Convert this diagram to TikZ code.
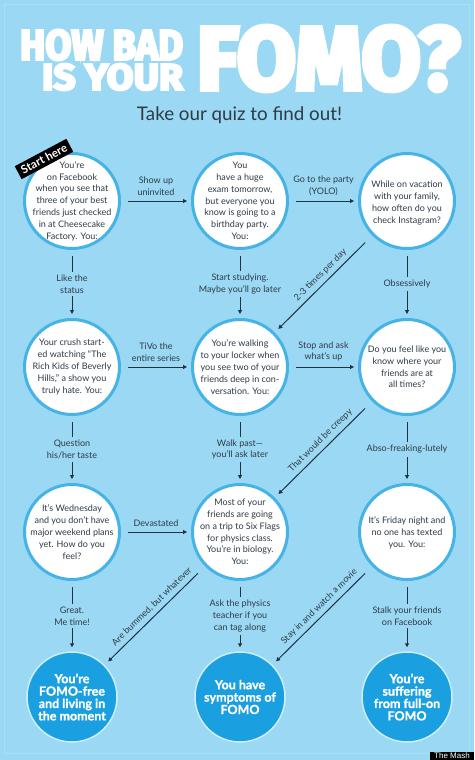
\documentclass[tikz,border=0pt]{standalone}
\usepackage{fontspec}
\setmainfont{Lato}
\newfontfamily\titlefont{Fira Sans}[BoldFeatures={FakeBold=6}]
\newfontfamily\heavyfont{Lato}[BoldFeatures={FakeBold=1.2}]
\newfontfamily\mashfont{Liberation Sans}
\usetikzlibrary{arrows.meta}
\definecolor{bg}{HTML}{9BD8F4}
\definecolor{framec}{HTML}{ABDFF6}
\definecolor{ring}{HTML}{45B3E5}
\definecolor{finalfill}{HTML}{1A9FE0}
\definecolor{finalring}{HTML}{CDEDFB}
\definecolor{txt}{HTML}{2E3B46}
\definecolor{arrowc}{HTML}{1E3242}
\tikzset{
  qcirc/.style={circle, draw=ring, line width=3pt, fill=white, minimum size=95pt, inner sep=0pt},
  qtext/.style={align=center, text=txt, font=\fontsize{9}{11.8}\selectfont, inner sep=0pt},
  fcirc/.style={circle, draw=finalring, line width=1.5pt, fill=finalfill, minimum size=90pt, inner sep=0pt},
  ftext/.style={align=center, text=white, font=\heavyfont\bfseries\fontsize{12.5}{12.4}\selectfont, inner sep=0pt},
  conn/.style={draw=arrowc, line width=1pt, -{Triangle[length=4pt,width=4pt]}, shorten <=6pt, shorten >=4pt},
  vlab/.style={align=center, text=txt, fill=bg, font=\fontsize{9}{11.8}\selectfont, inner sep=3pt},
  hlab/.style={align=center, text=txt, font=\fontsize{9}{11.8}\selectfont, inner sep=2pt, above=3pt},
  dlab/.style={text=txt, font=\fontsize{9}{9}\selectfont, inner sep=1pt, sloped, above=3pt, pos=0.47},
  diag/.style={conn, shorten <=10pt, shorten >=5pt}
}
\begin{document}
\begin{tikzpicture}[x=1pt,y=-1pt]
\useasboundingbox (0,0) rectangle (474,760);
\fill[bg] (0,0) rectangle (474,760);
\draw[framec, line width=0.8pt] (4.5,4.5) rectangle (469.5,753.5);

% title
\node[inner sep=0pt, text=white] (tHow) at (101.5,45) {\resizebox{163pt}{30pt}{\titlefont\bfseries HOW BAD}};
\node[inner sep=0pt, text=white] (tIs) at (112.5,77) {\resizebox{141pt}{26pt}{\titlefont\bfseries IS YOUR}};
\node[inner sep=0pt, text=white] (tFomo) at (328.5,58.5) {\resizebox{263pt}{63pt}{\titlefont\bfseries FOMO?}};
\node[inner sep=0pt, text=txt, anchor=base] (sub) at (239.5,120) {\resizebox{205pt}{!}{\fontsize{20}{20}\selectfont Take our quiz to find out!}};

% question circles
\node[qcirc] (c1) at (72,201) {};
\node[qcirc] (c2) at (240,201) {};
\node[qcirc] (c3) at (407,201) {};
\node[qcirc] (c4) at (72,367) {};
\node[qcirc] (c5) at (240,367) {};
\node[qcirc] (c6) at (407,367) {};
\node[qcirc] (c7) at (72,532) {};
\node[qcirc] (c8) at (240,532) {};
\node[qcirc] (c9) at (407,532) {};
\node[fcirc] (f1) at (72,697) {};
\node[fcirc] (f2) at (240,697) {};
\node[fcirc] (f3) at (407,697) {};

\node[qtext] (t1) at (c1) {You’re\\on Facebook\\when you see that\\three of your best\\friends just checked\\in at Cheesecake\\Factory. You:};
\node[qtext] (t2) at (c2) {You\\have a huge\\exam tomorrow,\\but everyone you\\know is going to a\\birthday party.\\You:};
\node[qtext] (t3) at ([yshift=-2pt]c3) {While on vacation\\with your family,\\how often do you\\check Instagram?};
\node[qtext] (t4) at (c4) {Your crush start-\\ed watching “The\\Rich Kids of Beverly\\Hills,” a show you\\truly hate. You:};
\node[qtext] (t5) at (c5) {You’re walking\\to your locker when\\you see two of your\\friends deep in con-\\versation. You:};
\node[qtext] (t6) at (c6) {Do you feel like you\\know where your\\friends are at\\all times?};
\node[qtext] (t7) at (c7) {It’s Wednesday\\and you don’t have\\major weekend plans\\yet. How do you\\feel?};
\node[qtext] (t8) at (c8) {Most of your\\friends are going\\on a trip to Six Flags\\for physics class.\\You’re in biology.\\You:};
\node[qtext] (t9) at ([yshift=-1pt]c9) {It’s Friday night and\\no one has texted\\you. You:};
\node[ftext] (tf1) at (f1) {You’re\\FOMO-free\\and living in\\the moment};
\node[ftext] (tf2) at (f2) {You have\\symptoms of\\FOMO};
\node[ftext] (tf3) at (f3) {You’re\\suffering\\from full-on\\FOMO};

% horizontal connectors
\draw[conn, shorten <=7pt] (c1) -- node[hlab] {Show up\\uninvited} (c2);
\draw[conn, shorten <=7pt] (c2) -- node[hlab] {Go to the party\\(YOLO)} (c3);
\draw[conn, shorten <=7pt] (c4) -- node[hlab] {TiVo the\\entire series} (c5);
\draw[conn, shorten <=7pt] (c5) -- node[hlab] {Stop and ask\\what’s up} (c6);
\draw[conn, shorten <=7pt] (c7) -- node[hlab] {Devastated} (c8);

% vertical connectors
\draw[conn] (c1) -- node[vlab] {Like the\\status} (c4);
\draw[conn] (c2) -- node[vlab] {Start studying.\\Maybe you’ll go later} (c5);
\draw[conn] (c3) -- node[vlab] {Obsessively} (c6);
\draw[conn] (c4) -- node[vlab] {Question\\his/her taste} (c7);
\draw[conn] (c5) -- node[vlab] {Walk past—\\you’ll ask later} (c8);
\draw[conn] (c6) -- node[vlab] {Abso-freaking-lutely} (c9);
\draw[conn] (c7) -- node[vlab] {Great.\\Me time!} (f1);
\draw[conn] (c8) -- node[vlab] {Ask the physics\\teacher if you\\can tag along} (f2);
\draw[conn] (c9) -- node[vlab] {Stalk your friends\\on Facebook} (f3);

% diagonal connectors
\draw[diag] (c3) -- node[dlab] {2-3 times per day} (c5);
\draw[diag] (c6) -- node[dlab] {That would be creepy} (c8);
\draw[diag] (c8) -- node[dlab] {Are bummed, but whatever} (f1);
\draw[diag] (c9) -- node[dlab] {Stay in and watch a movie} (f2);

% tags
\node[rotate=28, fill=black, text=white, font=\bfseries\fontsize{11.5}{11.5}\selectfont, inner xsep=4pt, inner ysep=3pt] (start) at (44,159) {Start here};
\node[anchor=south east, fill=black, text=white, font=\mashfont\fontsize{8}{8}\selectfont, inner xsep=4pt, inner ysep=1pt] (mash) at (474,760) {The Mash};
\end{tikzpicture}
\end{document}
